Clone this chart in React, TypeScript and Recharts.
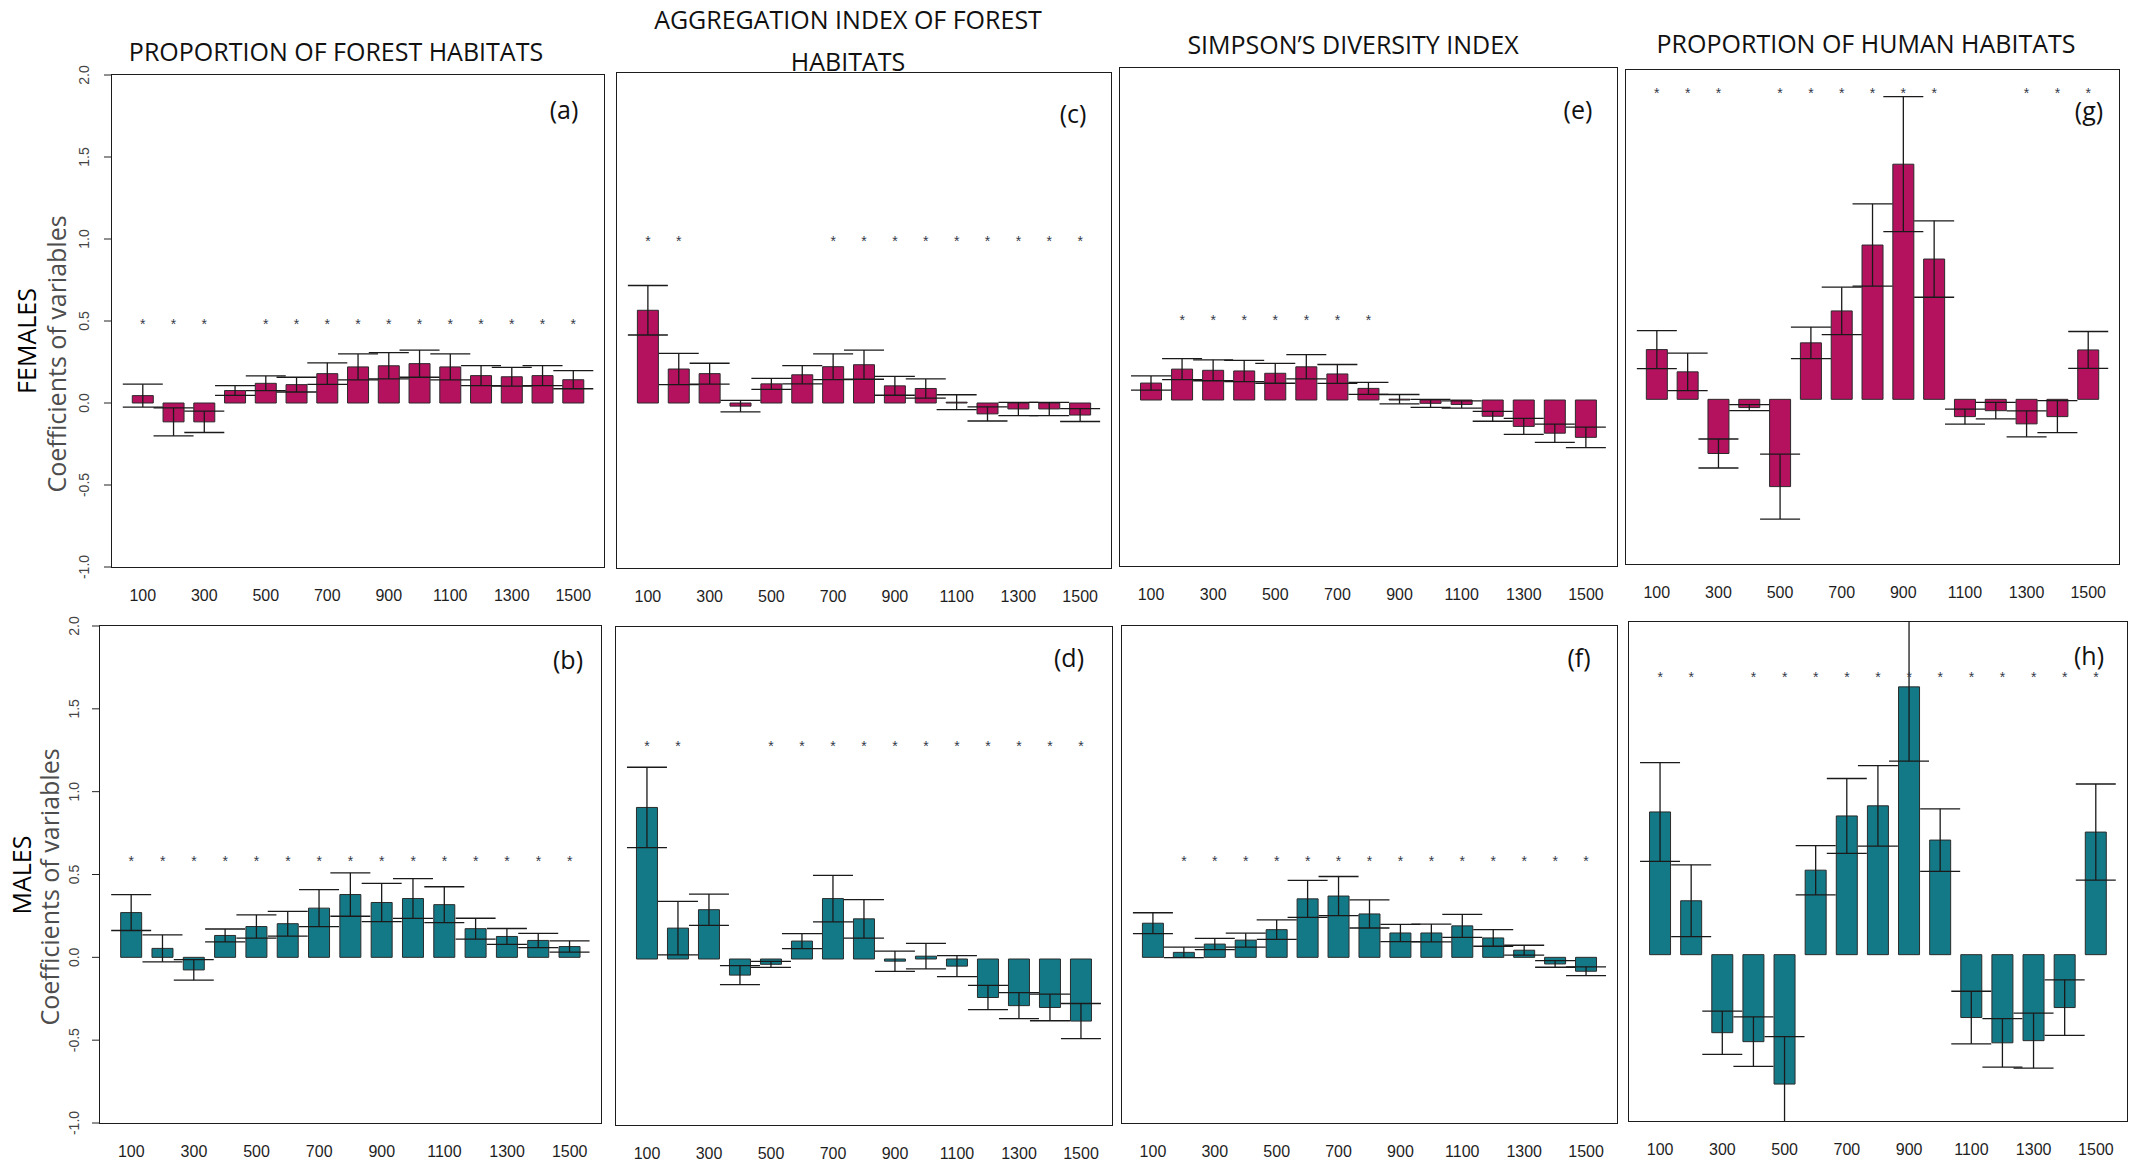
import React from "react";
import { Bar, ComposedChart, ErrorBar, Line, XAxis, YAxis } from "recharts";

// buffer radius (m)
const DISTANCES = [100, 200, 300, 400, 500, 600, 700, 800, 900, 1000, 1100, 1200, 1300, 1400, 1500];

// proportion of forest habitats
const FOREST_F = [0.045, -0.115, -0.115, 0.076, 0.12, 0.112, 0.179, 0.22, 0.227, 0.24, 0.22, 0.167, 0.16, 0.167, 0.142];
const FOREST_F_SE = [0.07, 0.085, 0.065, 0.03, 0.045, 0.045, 0.066, 0.079, 0.08, 0.083, 0.079, 0.061, 0.057, 0.061, 0.055];
const FOREST_F_SIG = [1, 1, 1, 0, 1, 1, 1, 1, 1, 1, 1, 1, 1, 1, 1];
const FOREST_M = [0.27, 0.054, -0.076, 0.132, 0.186, 0.203, 0.297, 0.379, 0.331, 0.355, 0.318, 0.173, 0.126, 0.102, 0.065];
const FOREST_M_SE = [0.108, 0.081, 0.062, 0.039, 0.07, 0.075, 0.112, 0.131, 0.115, 0.12, 0.108, 0.063, 0.048, 0.043, 0.034];
const FOREST_M_SIG = [1, 1, 1, 1, 1, 1, 1, 1, 1, 1, 1, 1, 1, 1, 1];

// aggregation index of forest habitats
const AGGR_F = [0.562, 0.206, 0.178, -0.019, 0.116, 0.171, 0.22, 0.232, 0.104, 0.088, 0.005, -0.066, -0.036, -0.036, -0.073];
const AGGR_F_SE = [0.15, 0.095, 0.063, 0.035, 0.033, 0.055, 0.078, 0.088, 0.057, 0.058, 0.045, 0.043, 0.04, 0.04, 0.039];
const AGGR_F_SIG = [1, 1, 0, 0, 0, 0, 1, 1, 1, 1, 1, 1, 1, 1, 1];
const AGGR_M = [0.913, 0.186, 0.297, -0.097, -0.032, 0.108, 0.364, 0.242, -0.013, 0.017, -0.043, -0.232, -0.281, -0.292, -0.374];
const AGGR_M_SE = [0.242, 0.161, 0.094, 0.057, 0.018, 0.045, 0.14, 0.116, 0.061, 0.077, 0.063, 0.073, 0.078, 0.08, 0.106];
const AGGR_M_SIG = [1, 1, 0, 0, 1, 1, 1, 1, 1, 1, 1, 1, 1, 1, 1];

// Simpson's diversity index
const SIMP_F = [0.102, 0.186, 0.179, 0.175, 0.161, 0.2, 0.157, 0.07, 0.005, -0.02, -0.027, -0.098, -0.159, -0.2, -0.225];
const SIMP_F_SE = [0.043, 0.063, 0.063, 0.064, 0.06, 0.073, 0.057, 0.036, 0.028, 0.024, 0.022, 0.03, 0.048, 0.055, 0.062];
const SIMP_F_SIG = [0, 1, 1, 1, 1, 1, 1, 1, 0, 0, 0, 0, 0, 0, 0];
const SIMP_M = [0.206, 0.03, 0.08, 0.104, 0.167, 0.353, 0.37, 0.262, 0.147, 0.147, 0.19, 0.117, 0.043, -0.04, -0.084];
const SIMP_M_SE = [0.063, 0.032, 0.034, 0.042, 0.059, 0.112, 0.118, 0.085, 0.052, 0.054, 0.069, 0.05, 0.03, 0.02, 0.027];
const SIMP_M_SIG = [0, 1, 1, 1, 1, 1, 1, 1, 1, 1, 1, 1, 1, 1, 1];

// proportion of human habitats
const HUMAN_F = [0.302, 0.167, -0.329, -0.05, -0.53, 0.343, 0.537, 0.937, 1.428, 0.852, -0.105, -0.069, -0.149, -0.105, 0.3];
const HUMAN_F_SE = [0.115, 0.114, 0.088, 0.018, 0.197, 0.096, 0.144, 0.25, 0.41, 0.232, 0.046, 0.05, 0.079, 0.097, 0.112];
const HUMAN_F_SIG = [1, 1, 1, 0, 1, 1, 1, 1, 1, 1, 0, 0, 1, 1, 1];
const HUMAN_M = [0.858, 0.324, -0.469, -0.523, -0.778, 0.508, 0.834, 0.895, 1.61, 0.689, -0.378, -0.53, -0.517, -0.318, 0.737];
const HUMAN_M_SE = [0.297, 0.216, 0.13, 0.149, 0.285, 0.148, 0.225, 0.242, 0.447, 0.188, 0.158, 0.146, 0.165, 0.167, 0.289];
const HUMAN_M_SIG = [1, 1, 0, 1, 1, 1, 1, 1, 1, 1, 1, 1, 1, 1, 1];

const Y_TICKS = [-1, -0.5, 0, 0.5, 1, 1.5, 2];

const FEMALE = "#b4115f";
const MALE = "#137987";

const YW = 40;
const MT = 10;
const MR = 10;
const XH = 45;

type Box = { left: number; top: number; width: number; height: number };

function RotTick({ x, y, payload }: any) {
  return (
    <text
      x={x}
      y={y}
      transform={`rotate(-90 ${x} ${y})`}
      textAnchor="middle"
      dominantBaseline="central"
      fontSize={14}
      fill="#444"
      fontFamily="Liberation Sans, Arial, sans-serif"
    >
      {Number(payload.value).toFixed(1)}
    </text>
  );
}

function renderStar(props: any) {
  const { cx, cy, payload, index } = props;
  if (payload == null || payload.star == null || cy == null) return <g key={`st-${index}`} />;
  return (
    <text
      key={`st-${index}`}
      x={cx}
      y={cy + 8}
      textAnchor="middle"
      fontSize={14}
      fill="#33384a"
      fontFamily="Liberation Sans, Arial, sans-serif"
    >
      *
    </text>
  );
}

function Panel({
  id,
  box,
  mean,
  se,
  sig,
  starY,
  color,
  axis,
  labelGap = 20,
}: {
  id: string;
  box: Box;
  mean: number[];
  se: number[];
  sig: number[];
  starY: number;
  color: string;
  axis: "labels" | "marks" | "none";
  labelGap?: number;
}) {
  const rows = DISTANCES.map((d, i) => ({
    dist: String(d),
    mean: mean[i],
    se: se[i],
    star: sig[i] ? starY : null,
  }));
  const pad = box.width / 32;
  const clipId = `eb-clip-${id}`;
  return (
    <>
      {/* error bars that run past the axis limits are cut at the plot frame */}
      <style>{`#panel-${id} .recharts-errorBars, #panel-${id} .recharts-errorBar, #panel-${id} .recharts-bar line { clip-path: url(#${clipId}); }`}</style>
      <svg width={0} height={0} style={{ position: "absolute" }}>
        <defs>
          <clipPath id={clipId} clipPathUnits="userSpaceOnUse">
            <rect x={YW} y={MT} width={box.width} height={box.height} />
          </clipPath>
        </defs>
      </svg>
      <div id={`panel-${id}`} style={{ position: "absolute", left: box.left - YW, top: box.top - MT }}>
        <ComposedChart
          width={box.width + YW + MR}
          height={box.height + MT + XH}
          data={rows}
          margin={{ top: MT, right: MR, bottom: 0, left: 0 }}
          barCategoryGap="16%"
        >
          <XAxis
            dataKey="dist"
            interval={1}
            tickLine={false}
            axisLine={false}
            tickSize={0}
            tickMargin={23}
            height={XH}
            padding={{ left: pad, right: pad }}
            tick={{ fontSize: 16, fill: "#1e1e1e", fontFamily: "Liberation Sans, Arial, sans-serif" }}
          />
          <YAxis
            type="number"
            domain={[-1, 2]}
            ticks={Y_TICKS}
            allowDataOverflow
            width={YW}
            axisLine={false}
            tickLine={axis === "none" ? false : { stroke: "#222" }}
            tickSize={axis === "labels" ? 8 : 3}
            tickMargin={labelGap}
            tick={axis === "labels" ? <RotTick /> : false}
          />
          <Bar dataKey="mean" fill={color} stroke="#2b2b2b" strokeWidth={1} isAnimationActive={false}>
            <ErrorBar dataKey="se" width={20} stroke="#1a1a1a" strokeWidth={1.3} direction="y" isAnimationActive={false} />
          </Bar>
          <Line
            dataKey="star"
            stroke="none"
            dot={renderStar}
            activeDot={false}
            legendType="none"
            isAnimationActive={false}
          />
        </ComposedChart>
      </div>
      <div
        style={{
          position: "absolute",
          left: box.left - 0.75,
          top: box.top - 0.75,
          width: box.width + 1.5,
          height: box.height + 1.5,
          border: "1.5px solid #1c1c1c",
          boxSizing: "border-box",
          pointerEvents: "none",
        }}
      />
    </>
  );
}

const TITLE_FONT = "Open Sans, Liberation Sans, sans-serif";

export default function App() {
  return (
    <div
      style={{
        position: "absolute",
        left: 0,
        top: 0,
        width: 2138,
        height: 1163,
        background: "#fff",
        overflow: "hidden",
      }}
    >
      <Panel id="a" box={{ left: 112, top: 75, width: 492, height: 492 }} mean={FOREST_F} se={FOREST_F_SE} sig={FOREST_F_SIG} starY={0.5} color={FEMALE} axis="labels" labelGap={20} />
      <Panel id="b" box={{ left: 100, top: 626, width: 501, height: 497 }} mean={FOREST_M} se={FOREST_M_SE} sig={FOREST_M_SIG} starY={0.6} color={MALE} axis="labels" labelGap={18} />
      <Panel id="c" box={{ left: 617, top: 73, width: 494, height: 495 }} mean={AGGR_F} se={AGGR_F_SE} sig={AGGR_F_SIG} starY={1.0} color={FEMALE} axis="marks" />
      <Panel id="d" box={{ left: 616, top: 627, width: 496, height: 498 }} mean={AGGR_M} se={AGGR_M_SE} sig={AGGR_M_SIG} starY={1.3} color={MALE} axis="marks" />
      <Panel id="e" box={{ left: 1120, top: 68, width: 497, height: 498 }} mean={SIMP_F} se={SIMP_F_SE} sig={SIMP_F_SIG} starY={0.5} color={FEMALE} axis="none" />
      <Panel id="f" box={{ left: 1122, top: 626, width: 495, height: 497 }} mean={SIMP_M} se={SIMP_M_SE} sig={SIMP_M_SIG} starY={0.6} color={MALE} axis="marks" />
      <Panel id="g" box={{ left: 1626, top: 70, width: 493, height: 494 }} mean={HUMAN_F} se={HUMAN_F_SE} sig={HUMAN_F_SIG} starY={1.88} color={FEMALE} axis="none" />
      <Panel id="h" box={{ left: 1629, top: 622, width: 498, height: 499 }} mean={HUMAN_M} se={HUMAN_M_SE} sig={HUMAN_M_SIG} starY={1.69} color={MALE} axis="marks" />

      <svg
        width={2138}
        height={1163}
        style={{ position: "absolute", left: 0, top: 0, pointerEvents: "none" }}
      >
        <g fontFamily={TITLE_FONT} fontSize={25} fill="#111" textAnchor="middle">
          <text x={336} y={61}>PROPORTION OF FOREST HABITATS</text>
          <text x={848} y={29}>AGGREGATION INDEX OF FOREST</text>
          <text x={848} y={71}>HABITATS</text>
          <text x={1353} y={54}>SIMPSON’S DIVERSITY INDEX</text>
          <text x={1866} y={53}>PROPORTION OF HUMAN HABITATS</text>
        </g>
        <g fontFamily={TITLE_FONT} fontSize={25} fill="#111" textAnchor="middle">
          <text x={564} y={119}>(a)</text>
          <text x={1073} y={123}>(c)</text>
          <text x={1578} y={119}>(e)</text>
          <text x={2089} y={120}>(g)</text>
          <text x={568} y={669}>(b)</text>
          <text x={1069} y={667}>(d)</text>
          <text x={1579} y={667}>(f)</text>
          <text x={2089} y={665}>(h)</text>
        </g>
        <g fontFamily={TITLE_FONT} fontSize={25} textAnchor="middle">
          <text x={36} y={341} fill="#000" transform="rotate(-90 36 341)">FEMALES</text>
          <text x={66} y={354} fill="#4d4d4d" transform="rotate(-90 66 354)">Coefficients of variables</text>
          <text x={31} y={875} fill="#000" transform="rotate(-90 31 875)">MALES</text>
          <text x={59} y={887} fill="#4d4d4d" transform="rotate(-90 59 887)">Coefficients of variables</text>
        </g>
      </svg>
    </div>
  );
}
